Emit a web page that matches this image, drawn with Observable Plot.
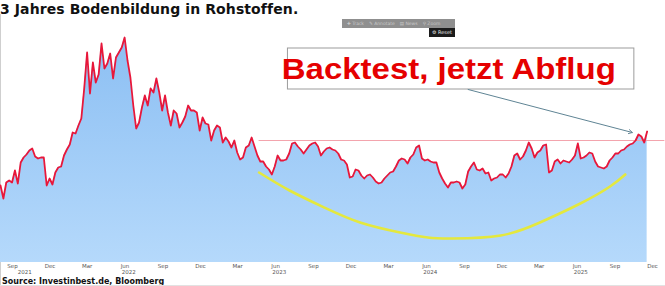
<!DOCTYPE html>
<html><head><meta charset="utf-8">
<script src="https://cdn.jsdelivr.net/npm/d3@7"></script>
<script src="https://cdn.jsdelivr.net/npm/@observablehq/plot@0.6"></script>
<style>
  html,body{margin:0;padding:0;background:#fff;}
  body{width:665px;height:286px;position:relative;overflow:hidden;font-family:"DejaVu Sans",sans-serif;}
  #title{position:absolute;left:0;top:1px;font-weight:bold;font-size:14px;color:#111;white-space:nowrap;letter-spacing:0.1px;}
  #source{position:absolute;left:2px;top:277px;font-weight:bold;font-size:8px;color:#111;white-space:nowrap;}
  #chart{position:absolute;left:0;top:22px;}
  #frameL{position:absolute;left:0;top:14px;width:1px;height:272px;background:#cfcfcf;}
  #frameB{position:absolute;left:0;top:285px;width:665px;height:1px;background:#e2e2e2;}
  #toolbar{position:absolute;left:342px;top:19px;width:113px;height:9px;background:#8f8f8f;color:#c9c9c9;font-size:4.5px;line-height:9px;white-space:nowrap;overflow:hidden;}
  #toolbar span{margin-left:5px;}
  #reset{position:absolute;left:429px;top:28px;width:26px;height:9px;background:#1b1b1b;color:#e8e8e8;font-size:5px;line-height:9px;text-align:center;white-space:nowrap;}
</style>
</head><body>
<div id="frameL"></div>
<div id="title">3 Jahres Bodenbildung in Rohstoffen.</div>
<div id="toolbar"><span>✚ Track</span><span>✎ Annotate</span><span>▤ News</span><span>⚲ Zoom</span></div>
<div id="reset">⚙ Reset</div>
<div id="chart"></div>
<div id="source">Source: Investinbest.de, Bloomberg</div>
<div id="frameB"></div>
<script>
// weekly series, first observation date
const startDate = "2021-08-03";
const values = [
  77,64,80,82,80,92,79,100,105,108,112,114,106,104,105,105,77,84,78,90,
  95,96,107,113,118,130,129,137,144,174,210,169,200,180,188,219,194,199,209,184,
  205,210,215,225,202,185,157,134,140,155,167,157,174,170,184,170,152,167,150,137,
  152,149,135,140,146,157,152,152,150,132,145,139,138,122,132,137,135,120,125,121,
  115,122,110,103,105,115,117,125,116,107,101,101,96,93,88,96,107,102,102,103,
  109,119,120,116,113,109,113,117,119,120,116,107,111,114,115,113,112,109,103,102,
  98,85,86,93,92,87,84,87,88,85,81,79,80,84,87,90,91,96,102,104,
  103,99,105,108,115,117,104,102,103,101,100,100,90,84,79,75,80,80,81,80,
  74,78,91,96,100,93,92,94,89,90,82,84,85,88,88,85,89,96,107,109,
  103,106,112,120,114,105,110,112,117,118,90,92,101,103,99,102,101,100,103,107,
  119,104,105,107,110,109,101,96,95,94,96,102,105,109,109,112,113,116,118,119,
  122,128,126,120,131
];
// x axis
const domainStart = "2021-08-03";
const domainEnd = "2025-12-01";
const tickDates = [
  "2021-09-01","2021-12-01","2022-03-01","2022-06-01","2022-09-01","2022-12-01",
  "2023-03-01","2023-06-01","2023-09-01","2023-12-01","2024-03-01","2024-06-01",
  "2024-09-01","2024-12-01","2025-03-01","2025-06-01","2025-09-01","2025-12-01"
];
const yearLabels = ["2021","2022","2023","2024","2025"];
const yearDates = ["2021-10-01","2022-06-10","2023-06-10","2024-06-10","2025-06-10"];
// annotations
const resistanceLevel = 122;
const resistanceFrom = "2023-04-22";
const resistanceTo = "2025-12-31";
const bowlDates = ["2023-04-22","2023-07-05","2023-09-27","2023-12-23","2024-03-29","2024-06-04","2024-08-04","2024-11-28","2025-03-03","2025-06-09","2025-08-20","2025-09-26"];
const bowlValues = [90,72,55,40,30,25,24,27,40,59,76,88];
const calloutText = "Backtest, jetzt Abflug";
const calloutBox = {x1:"2023-07-01", x2:"2025-10-18", y1:173, y2:214};
const calloutCenter = {x:"2024-07-25", y:193};
const arrowStart = {x:"2024-09-10", y:173};
const arrowEnd = {x:"2025-10-13", y:130};

const P = s => new Date(s);
const start = P(startDate);
const series = values.map((v, i) => ({date: d3.utcDay.offset(start, 7 * i), value: v}));
const bowl = bowlDates.map((d, i) => ({date: P(d), value: bowlValues[i]}));

const chart = Plot.plot({
  width: 665, height: 254,
  marginLeft: 0, marginRight: 13, marginTop: 10, marginBottom: 14,
  style: {fontFamily: "DejaVu Sans", fontSize: "5.5px", background: "transparent", color: "#555"},
  x: {type: "utc", domain: [P(domainStart), P(domainEnd)], ticks: tickDates.map(P), tickFormat: d3.utcFormat("%b"), tickSize: 0, tickPadding: 2, label: null},
  y: {domain: [0, 230], axis: null},
  marks: [
    Plot.areaY(series, {x: "date", y: "value", fill: "url(#fillGrad)"}),
    Plot.ruleY([resistanceLevel], {x1: P(resistanceFrom), x2: P(resistanceTo), stroke: "#f3a4ad", strokeWidth: 1}),
    Plot.lineY(series, {x: "date", y: "value", stroke: "#e8173a", strokeWidth: 1.8}),
    Plot.line(bowl, {x: "date", y: "value", curve: "natural", stroke: "#e4e83e", strokeWidth: 2.6}),
    Plot.rect([calloutBox], {x1: d => P(d.x1), x2: d => P(d.x2), y1: "y1", y2: "y2", fill: "white", stroke: "#9c9c9c", strokeWidth: 1}),
    Plot.text([calloutText], {x: P(calloutCenter.x), y: calloutCenter.y, text: d => d, fontSize: 30, fontWeight: "bold", fontFamily: "Liberation Sans", fill: "#e50000", textAnchor: "middle", lineAnchor: "middle"}),
    Plot.arrow([arrowStart], {x1: d => P(d.x), y1: "y", x2: P(arrowEnd.x), y2: arrowEnd.y, stroke: "#5f8494", strokeWidth: 1, headLength: 6}),
    Plot.text(yearLabels, {x: (d, i) => P(yearDates[i]), text: d => d, frameAnchor: "bottom", dy: 11, fontSize: 5.5, fill: "#555"})
  ]
});

d3.select(chart).insert("defs", ":first-child").html(
  '<linearGradient id="fillGrad" x1="0" y1="0" x2="0" y2="1">' +
  '<stop offset="0" stop-color="#8cbff3"/><stop offset="1" stop-color="#b5d9fb"/></linearGradient>'
);
d3.select(chart).selectAll("text").filter(function(){ return this.textContent === calloutText; })
  .attr("textLength", 334).attr("lengthAdjust", "spacingAndGlyphs");

document.getElementById("chart").appendChild(chart);
</script>
</body></html>
